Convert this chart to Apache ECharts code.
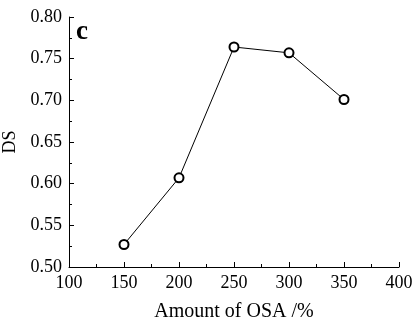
<!DOCTYPE html>
<html><head><meta charset="utf-8">
<script src="https://cdn.jsdelivr.net/npm/echarts@6/dist/echarts.min.js"></script>
<style>html,body{margin:0;padding:0;background:#fff}#c{width:413px;height:326px}</style>
</head><body><div id="c"></div>
<script>
const xValues = [150, 200, 250, 300, 350];
const dsValues = [0.527, 0.607, 0.764, 0.757, 0.701];
const xName = 'Amount of OSA /%';
const yName = 'DS';
const panelLabel = 'c';
const font = 'Liberation Serif';
const chart = echarts.init(document.getElementById('c'));
chart.setOption({
  animation: false,
  grid: {left: 69, right: 14, top: 17, bottom: 59, containLabel: false, outerBoundsMode: 'none'},
  title: {text: panelLabel, left: 76, top: 19, padding: 0, textStyle: {fontFamily: font, fontWeight: 'bold', fontSize: 27, color: '#000'}},
  xAxis: {
    type: 'value', min: 100, max: 400, interval: 50,
    name: xName, nameLocation: 'middle', nameGap: 35,
    nameTextStyle: {fontFamily: font, fontSize: 20, color: '#000'},
    axisLine: {lineStyle: {color: '#000', width: 1}},
    axisTick: {inside: true, length: 5, lineStyle: {color: '#000'}},
    minorTick: {show: true, splitNumber: 2, length: 3, lineStyle: {color: '#000'}},
    axisLabel: {fontFamily: font, fontSize: 18, color: '#000', margin: 7},
    splitLine: {show: false}
  },
  yAxis: {
    type: 'value', min: 0.5, max: 0.8, interval: 0.05,
    name: yName, nameLocation: 'middle', nameGap: 47,
    nameTextStyle: {fontFamily: font, fontSize: 18, color: '#000'},
    axisLine: {show: true, lineStyle: {color: '#000', width: 1}},
    axisTick: {show: true, inside: true, length: 5, lineStyle: {color: '#000'}},
    minorTick: {show: true, splitNumber: 2, length: 3, lineStyle: {color: '#000'}},
    axisLabel: {fontFamily: font, fontSize: 18, color: '#000', margin: 7, formatter: v => v.toFixed(2)},
    splitLine: {show: false}
  },
  series: [{
    type: 'line',
    data: xValues.map((x, i) => [x, dsValues[i]]),
    symbol: 'emptyCircle', symbolSize: 9,
    lineStyle: {color: '#000', width: 1},
    itemStyle: {color: '#000', borderColor: '#000', borderWidth: 1}
  }]
});
</script></body></html>
